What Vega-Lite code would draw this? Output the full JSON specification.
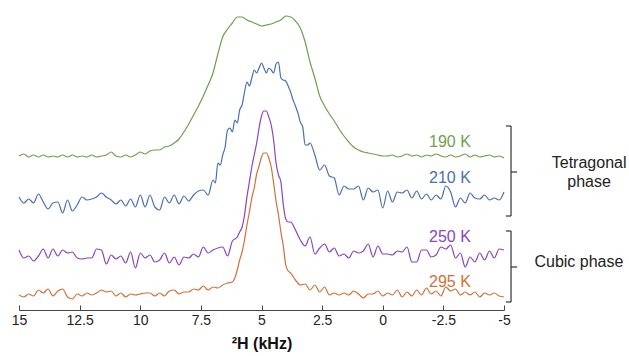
{
  "$schema": "https://vega.github.io/schema/vega-lite/v6.json",
  "width": 485,
  "height": 300,
  "autosize": {"type": "none"},
  "padding": {"left": 19, "top": 10, "right": 125, "bottom": 46},
  "config": {"view": {"stroke": null}, "font": "Liberation Sans"},
  "datasets": {
    "spectra": [
      {"s":"190 K","x":15,"y":154},{"s":"190 K","x":14.8,"y":156},{"s":"190 K","x":14.6,"y":153},{"s":"190 K","x":14.4,"y":155},{"s":"190 K","x":14.2,"y":153},{"s":"190 K","x":14,"y":155},{"s":"190 K","x":13.8,"y":153},{"s":"190 K","x":13.6,"y":154},{"s":"190 K","x":13.4,"y":153},{"s":"190 K","x":13.2,"y":155},{"s":"190 K","x":13,"y":153},
      {"s":"190 K","x":12.8,"y":155},{"s":"190 K","x":12.6,"y":153},{"s":"190 K","x":12.4,"y":154},{"s":"190 K","x":12.2,"y":153},{"s":"190 K","x":12,"y":155},{"s":"190 K","x":11.8,"y":153},{"s":"190 K","x":11.6,"y":154},{"s":"190 K","x":11.4,"y":155},{"s":"190 K","x":11.2,"y":158},{"s":"190 K","x":11,"y":154},
      {"s":"190 K","x":10.8,"y":153},{"s":"190 K","x":10.6,"y":155},{"s":"190 K","x":10.4,"y":153},{"s":"190 K","x":10.2,"y":155},{"s":"190 K","x":10,"y":158},{"s":"190 K","x":9.8,"y":156},{"s":"190 K","x":9.6,"y":159},{"s":"190 K","x":9.4,"y":160},{"s":"190 K","x":9.2,"y":160},{"s":"190 K","x":9,"y":163},
      {"s":"190 K","x":8.8,"y":164},{"s":"190 K","x":8.6,"y":167},{"s":"190 K","x":8.4,"y":171},{"s":"190 K","x":8.2,"y":178},{"s":"190 K","x":8,"y":186},{"s":"190 K","x":7.8,"y":195},{"s":"190 K","x":7.6,"y":204},{"s":"190 K","x":7.4,"y":214},{"s":"190 K","x":7.2,"y":225},{"s":"190 K","x":7,"y":237},
      {"s":"190 K","x":6.8,"y":256},{"s":"190 K","x":6.6,"y":273},{"s":"190 K","x":6.4,"y":281},{"s":"190 K","x":6.2,"y":287},{"s":"190 K","x":6,"y":293},{"s":"190 K","x":5.8,"y":293},{"s":"190 K","x":5.6,"y":290},{"s":"190 K","x":5.4,"y":288},{"s":"190 K","x":5.2,"y":286},{"s":"190 K","x":5,"y":284},
      {"s":"190 K","x":4.8,"y":285},{"s":"190 K","x":4.6,"y":286},{"s":"190 K","x":4.4,"y":288},{"s":"190 K","x":4.2,"y":290},{"s":"190 K","x":4,"y":294},{"s":"190 K","x":3.8,"y":293},{"s":"190 K","x":3.6,"y":289},{"s":"190 K","x":3.4,"y":282},{"s":"190 K","x":3.2,"y":268},{"s":"190 K","x":3,"y":248},
      {"s":"190 K","x":2.8,"y":232},{"s":"190 K","x":2.6,"y":214},{"s":"190 K","x":2.4,"y":204},{"s":"190 K","x":2.2,"y":196},{"s":"190 K","x":2,"y":189},{"s":"190 K","x":1.8,"y":181},{"s":"190 K","x":1.6,"y":174},{"s":"190 K","x":1.4,"y":168},{"s":"190 K","x":1.2,"y":163},{"s":"190 K","x":1,"y":160},
      {"s":"190 K","x":0.8,"y":158},{"s":"190 K","x":0.6,"y":157},{"s":"190 K","x":0.4,"y":156},{"s":"190 K","x":0.2,"y":155},{"s":"190 K","x":0,"y":154},{"s":"190 K","x":-0.2,"y":154},{"s":"190 K","x":-0.4,"y":155},{"s":"190 K","x":-0.6,"y":153},{"s":"190 K","x":-0.8,"y":154},{"s":"190 K","x":-1,"y":156},
      {"s":"190 K","x":-1.2,"y":154},{"s":"190 K","x":-1.4,"y":155},{"s":"190 K","x":-1.6,"y":153},{"s":"190 K","x":-1.8,"y":155},{"s":"190 K","x":-2,"y":154},{"s":"190 K","x":-2.2,"y":156},{"s":"190 K","x":-2.4,"y":154},{"s":"190 K","x":-2.6,"y":153},{"s":"190 K","x":-2.8,"y":155},{"s":"190 K","x":-3,"y":153},
      {"s":"190 K","x":-3.2,"y":154},{"s":"190 K","x":-3.4,"y":156},{"s":"190 K","x":-3.6,"y":153},{"s":"190 K","x":-3.8,"y":155},{"s":"190 K","x":-4,"y":153},{"s":"190 K","x":-4.2,"y":154},{"s":"190 K","x":-4.4,"y":155},{"s":"190 K","x":-4.6,"y":153},{"s":"190 K","x":-4.8,"y":154},{"s":"190 K","x":-5,"y":152},

      {"s":"210 K","x":15,"y":113},{"s":"210 K","x":14.8,"y":107},{"s":"210 K","x":14.6,"y":111},{"s":"210 K","x":14.4,"y":107},{"s":"210 K","x":14.2,"y":116},{"s":"210 K","x":14,"y":108},{"s":"210 K","x":13.8,"y":101},{"s":"210 K","x":13.6,"y":107},{"s":"210 K","x":13.4,"y":108},{"s":"210 K","x":13.2,"y":97},{"s":"210 K","x":13,"y":110},
      {"s":"210 K","x":12.8,"y":99},{"s":"210 K","x":12.6,"y":105},{"s":"210 K","x":12.4,"y":113},{"s":"210 K","x":12.2,"y":110},{"s":"210 K","x":12,"y":111},{"s":"210 K","x":11.8,"y":113},{"s":"210 K","x":11.6,"y":117},{"s":"210 K","x":11.4,"y":113},{"s":"210 K","x":11.2,"y":110},{"s":"210 K","x":11,"y":106},
      {"s":"210 K","x":10.8,"y":110},{"s":"210 K","x":10.6,"y":104},{"s":"210 K","x":10.4,"y":111},{"s":"210 K","x":10.2,"y":103},{"s":"210 K","x":10,"y":115},{"s":"210 K","x":9.8,"y":103},{"s":"210 K","x":9.6,"y":115},{"s":"210 K","x":9.4,"y":103},{"s":"210 K","x":9.2,"y":100},{"s":"210 K","x":9,"y":113},
      {"s":"210 K","x":8.8,"y":107},{"s":"210 K","x":8.6,"y":115},{"s":"210 K","x":8.4,"y":106},{"s":"210 K","x":8.2,"y":114},{"s":"210 K","x":8,"y":109},{"s":"210 K","x":7.8,"y":115},{"s":"210 K","x":7.6,"y":119},{"s":"210 K","x":7.4,"y":120},{"s":"210 K","x":7.2,"y":115},{"s":"210 K","x":7,"y":130},
      {"s":"210 K","x":6.9,"y":127},{"s":"210 K","x":6.8,"y":147},{"s":"210 K","x":6.7,"y":145},{"s":"210 K","x":6.6,"y":155},{"s":"210 K","x":6.5,"y":163},{"s":"210 K","x":6.4,"y":180},{"s":"210 K","x":6.3,"y":182},{"s":"210 K","x":6.2,"y":178},{"s":"210 K","x":6.1,"y":190},{"s":"210 K","x":6,"y":187},
      {"s":"210 K","x":5.9,"y":200},{"s":"210 K","x":5.8,"y":205},{"s":"210 K","x":5.7,"y":218},{"s":"210 K","x":5.6,"y":228},{"s":"210 K","x":5.5,"y":224},{"s":"210 K","x":5.4,"y":232},{"s":"210 K","x":5.3,"y":240},{"s":"210 K","x":5.2,"y":237},{"s":"210 K","x":5.1,"y":242},{"s":"210 K","x":5,"y":247},
      {"s":"210 K","x":4.9,"y":242},{"s":"210 K","x":4.8,"y":237},{"s":"210 K","x":4.7,"y":242},{"s":"210 K","x":4.6,"y":240},{"s":"210 K","x":4.5,"y":237},{"s":"210 K","x":4.4,"y":246},{"s":"210 K","x":4.3,"y":248},{"s":"210 K","x":4.2,"y":232},{"s":"210 K","x":4.1,"y":230},{"s":"210 K","x":4,"y":229},
      {"s":"210 K","x":3.9,"y":224},{"s":"210 K","x":3.8,"y":218},{"s":"210 K","x":3.7,"y":210},{"s":"210 K","x":3.6,"y":204},{"s":"210 K","x":3.5,"y":197},{"s":"210 K","x":3.4,"y":188},{"s":"210 K","x":3.3,"y":183},{"s":"210 K","x":3.2,"y":165},{"s":"210 K","x":3.1,"y":165},{"s":"210 K","x":3,"y":167},
      {"s":"210 K","x":2.8,"y":155},{"s":"210 K","x":2.6,"y":140},{"s":"210 K","x":2.4,"y":145},{"s":"210 K","x":2.2,"y":134},{"s":"210 K","x":2,"y":132},{"s":"210 K","x":1.8,"y":115},{"s":"210 K","x":1.6,"y":124},{"s":"210 K","x":1.4,"y":121},{"s":"210 K","x":1.2,"y":121},{"s":"210 K","x":1,"y":124},
      {"s":"210 K","x":0.8,"y":110},{"s":"210 K","x":0.6,"y":122},{"s":"210 K","x":0.4,"y":118},{"s":"210 K","x":0.2,"y":120},{"s":"210 K","x":0,"y":102},{"s":"210 K","x":-0.2,"y":119},{"s":"210 K","x":-0.4,"y":108},{"s":"210 K","x":-0.6,"y":118},{"s":"210 K","x":-0.8,"y":117},{"s":"210 K","x":-1,"y":120},
      {"s":"210 K","x":-1.2,"y":112},{"s":"210 K","x":-1.4,"y":119},{"s":"210 K","x":-1.6,"y":111},{"s":"210 K","x":-1.8,"y":116},{"s":"210 K","x":-2,"y":110},{"s":"210 K","x":-2.2,"y":115},{"s":"210 K","x":-2.4,"y":111},{"s":"210 K","x":-2.6,"y":124},{"s":"210 K","x":-2.8,"y":118},{"s":"210 K","x":-3,"y":103},
      {"s":"210 K","x":-3.2,"y":112},{"s":"210 K","x":-3.4,"y":107},{"s":"210 K","x":-3.6,"y":117},{"s":"210 K","x":-3.8,"y":112},{"s":"210 K","x":-4,"y":111},{"s":"210 K","x":-4.2,"y":115},{"s":"210 K","x":-4.4,"y":110},{"s":"210 K","x":-4.6,"y":112},{"s":"210 K","x":-4.8,"y":110},{"s":"210 K","x":-5,"y":118},

      {"s":"250 K","x":15,"y":60},{"s":"250 K","x":14.8,"y":52},{"s":"250 K","x":14.6,"y":54},{"s":"250 K","x":14.4,"y":49},{"s":"250 K","x":14.2,"y":54},{"s":"250 K","x":14,"y":61},{"s":"250 K","x":13.8,"y":52},{"s":"250 K","x":13.6,"y":61},{"s":"250 K","x":13.4,"y":54},{"s":"250 K","x":13.2,"y":60},{"s":"250 K","x":13,"y":57},
      {"s":"250 K","x":12.8,"y":58},{"s":"250 K","x":12.6,"y":52},{"s":"250 K","x":12.4,"y":51},{"s":"250 K","x":12.2,"y":52},{"s":"250 K","x":12,"y":52},{"s":"250 K","x":11.8,"y":61},{"s":"250 K","x":11.6,"y":60},{"s":"250 K","x":11.4,"y":46},{"s":"250 K","x":11.2,"y":55},{"s":"250 K","x":11,"y":51},
      {"s":"250 K","x":10.8,"y":54},{"s":"250 K","x":10.6,"y":47},{"s":"250 K","x":10.4,"y":58},{"s":"250 K","x":10.2,"y":42},{"s":"250 K","x":10,"y":57},{"s":"250 K","x":9.8,"y":52},{"s":"250 K","x":9.6,"y":55},{"s":"250 K","x":9.4,"y":48},{"s":"250 K","x":9.2,"y":50},{"s":"250 K","x":9,"y":57},
      {"s":"250 K","x":8.8,"y":47},{"s":"250 K","x":8.6,"y":53},{"s":"250 K","x":8.4,"y":45},{"s":"250 K","x":8.2,"y":53},{"s":"250 K","x":8,"y":52},{"s":"250 K","x":7.8,"y":56},{"s":"250 K","x":7.6,"y":53},{"s":"250 K","x":7.4,"y":63},{"s":"250 K","x":7.2,"y":57},{"s":"250 K","x":7,"y":60},
      {"s":"250 K","x":6.8,"y":62},{"s":"250 K","x":6.6,"y":63},{"s":"250 K","x":6.4,"y":54},{"s":"250 K","x":6.2,"y":69},{"s":"250 K","x":6,"y":73},{"s":"250 K","x":5.9,"y":78},{"s":"250 K","x":5.8,"y":83},{"s":"250 K","x":5.7,"y":95},{"s":"250 K","x":5.6,"y":113},{"s":"250 K","x":5.5,"y":128},
      {"s":"250 K","x":5.4,"y":143},{"s":"250 K","x":5.3,"y":155},{"s":"250 K","x":5.2,"y":167},{"s":"250 K","x":5.1,"y":182},{"s":"250 K","x":5,"y":194},{"s":"250 K","x":4.9,"y":199},{"s":"250 K","x":4.8,"y":199},{"s":"250 K","x":4.7,"y":193},{"s":"250 K","x":4.6,"y":185},{"s":"250 K","x":4.5,"y":170},
      {"s":"250 K","x":4.4,"y":147},{"s":"250 K","x":4.3,"y":135},{"s":"250 K","x":4.2,"y":128},{"s":"250 K","x":4.1,"y":105},{"s":"250 K","x":4,"y":91},{"s":"250 K","x":3.9,"y":88},{"s":"250 K","x":3.8,"y":88},{"s":"250 K","x":3.6,"y":80},{"s":"250 K","x":3.4,"y":70},{"s":"250 K","x":3.2,"y":64},
      {"s":"250 K","x":3,"y":73},{"s":"250 K","x":2.8,"y":56},{"s":"250 K","x":2.6,"y":62},{"s":"250 K","x":2.4,"y":66},{"s":"250 K","x":2.2,"y":58},{"s":"250 K","x":2,"y":62},{"s":"250 K","x":1.8,"y":54},{"s":"250 K","x":1.6,"y":56},{"s":"250 K","x":1.4,"y":52},{"s":"250 K","x":1.2,"y":59},
      {"s":"250 K","x":1,"y":57},{"s":"250 K","x":0.8,"y":59},{"s":"250 K","x":0.6,"y":66},{"s":"250 K","x":0.4,"y":53},{"s":"250 K","x":0.2,"y":64},{"s":"250 K","x":0,"y":56},{"s":"250 K","x":-0.2,"y":56},{"s":"250 K","x":-0.4,"y":55},{"s":"250 K","x":-0.6,"y":59},{"s":"250 K","x":-0.8,"y":58},
      {"s":"250 K","x":-1,"y":63},{"s":"250 K","x":-1.2,"y":48},{"s":"250 K","x":-1.4,"y":48},{"s":"250 K","x":-1.6,"y":60},{"s":"250 K","x":-1.8,"y":60},{"s":"250 K","x":-2,"y":53},{"s":"250 K","x":-2.2,"y":55},{"s":"250 K","x":-2.4,"y":63},{"s":"250 K","x":-2.6,"y":61},{"s":"250 K","x":-2.8,"y":65},
      {"s":"250 K","x":-3,"y":52},{"s":"250 K","x":-3.2,"y":57},{"s":"250 K","x":-3.4,"y":43},{"s":"250 K","x":-3.6,"y":53},{"s":"250 K","x":-3.8,"y":48},{"s":"250 K","x":-4,"y":57},{"s":"250 K","x":-4.2,"y":50},{"s":"250 K","x":-4.4,"y":59},{"s":"250 K","x":-4.6,"y":52},{"s":"250 K","x":-4.8,"y":61},{"s":"250 K","x":-5,"y":60},

      {"s":"295 K","x":15,"y":15},{"s":"295 K","x":14.8,"y":13},{"s":"295 K","x":14.6,"y":16},{"s":"295 K","x":14.4,"y":14},{"s":"295 K","x":14.2,"y":20},{"s":"295 K","x":14,"y":17},{"s":"295 K","x":13.8,"y":21},{"s":"295 K","x":13.6,"y":14},{"s":"295 K","x":13.4,"y":19},{"s":"295 K","x":13.2,"y":21},{"s":"295 K","x":13,"y":13},
      {"s":"295 K","x":12.8,"y":11},{"s":"295 K","x":12.6,"y":16},{"s":"295 K","x":12.4,"y":14},{"s":"295 K","x":12.2,"y":17},{"s":"295 K","x":12,"y":15},{"s":"295 K","x":11.8,"y":17},{"s":"295 K","x":11.6,"y":20},{"s":"295 K","x":11.4,"y":18},{"s":"295 K","x":11.2,"y":19},{"s":"295 K","x":11,"y":14},
      {"s":"295 K","x":10.8,"y":17},{"s":"295 K","x":10.6,"y":13},{"s":"295 K","x":10.4,"y":16},{"s":"295 K","x":10.2,"y":15},{"s":"295 K","x":10,"y":16},{"s":"295 K","x":9.8,"y":17},{"s":"295 K","x":9.6,"y":17},{"s":"295 K","x":9.4,"y":14},{"s":"295 K","x":9.2,"y":17},{"s":"295 K","x":9,"y":14},
      {"s":"295 K","x":8.8,"y":19},{"s":"295 K","x":8.6,"y":20},{"s":"295 K","x":8.4,"y":16},{"s":"295 K","x":8.2,"y":18},{"s":"295 K","x":8,"y":18},{"s":"295 K","x":7.8,"y":21},{"s":"295 K","x":7.6,"y":20},{"s":"295 K","x":7.4,"y":24},{"s":"295 K","x":7.2,"y":20},{"s":"295 K","x":7,"y":23},
      {"s":"295 K","x":6.8,"y":22},{"s":"295 K","x":6.6,"y":25},{"s":"295 K","x":6.4,"y":27},{"s":"295 K","x":6.2,"y":28},{"s":"295 K","x":6.1,"y":32},{"s":"295 K","x":6,"y":40},{"s":"295 K","x":5.9,"y":50},{"s":"295 K","x":5.8,"y":58},{"s":"295 K","x":5.7,"y":70},{"s":"295 K","x":5.6,"y":85},
      {"s":"295 K","x":5.5,"y":98},{"s":"295 K","x":5.4,"y":112},{"s":"295 K","x":5.3,"y":122},{"s":"295 K","x":5.2,"y":136},{"s":"295 K","x":5.1,"y":144},{"s":"295 K","x":5,"y":153},{"s":"295 K","x":4.9,"y":157},{"s":"295 K","x":4.8,"y":157},{"s":"295 K","x":4.7,"y":152},{"s":"295 K","x":4.6,"y":143},
      {"s":"295 K","x":4.5,"y":127},{"s":"295 K","x":4.4,"y":109},{"s":"295 K","x":4.3,"y":95},{"s":"295 K","x":4.2,"y":78},{"s":"295 K","x":4.1,"y":64},{"s":"295 K","x":4,"y":45},{"s":"295 K","x":3.9,"y":39},{"s":"295 K","x":3.8,"y":37},{"s":"295 K","x":3.6,"y":30},{"s":"295 K","x":3.4,"y":25},
      {"s":"295 K","x":3.2,"y":26},{"s":"295 K","x":3,"y":20},{"s":"295 K","x":2.8,"y":25},{"s":"295 K","x":2.6,"y":18},{"s":"295 K","x":2.4,"y":23},{"s":"295 K","x":2.2,"y":15},{"s":"295 K","x":2,"y":17},{"s":"295 K","x":1.8,"y":15},{"s":"295 K","x":1.6,"y":17},{"s":"295 K","x":1.4,"y":15},
      {"s":"295 K","x":1.2,"y":19},{"s":"295 K","x":1,"y":16},{"s":"295 K","x":0.8,"y":12},{"s":"295 K","x":0.6,"y":16},{"s":"295 K","x":0.4,"y":16},{"s":"295 K","x":0.2,"y":19},{"s":"295 K","x":0,"y":14},{"s":"295 K","x":-0.2,"y":17},{"s":"295 K","x":-0.4,"y":15},{"s":"295 K","x":-0.6,"y":20},
      {"s":"295 K","x":-0.8,"y":13},{"s":"295 K","x":-1,"y":18},{"s":"295 K","x":-1.2,"y":14},{"s":"295 K","x":-1.4,"y":20},{"s":"295 K","x":-1.6,"y":15},{"s":"295 K","x":-1.8,"y":22},{"s":"295 K","x":-2,"y":16},{"s":"295 K","x":-2.2,"y":19},{"s":"295 K","x":-2.4,"y":14},{"s":"295 K","x":-2.6,"y":23},
      {"s":"295 K","x":-2.8,"y":19},{"s":"295 K","x":-3,"y":21},{"s":"295 K","x":-3.2,"y":15},{"s":"295 K","x":-3.4,"y":18},{"s":"295 K","x":-3.6,"y":15},{"s":"295 K","x":-3.8,"y":18},{"s":"295 K","x":-4,"y":13},{"s":"295 K","x":-4.2,"y":17},{"s":"295 K","x":-4.4,"y":15},{"s":"295 K","x":-4.6,"y":17},{"s":"295 K","x":-4.8,"y":14},{"s":"295 K","x":-5,"y":13}
    ],
    "labels": [
      {"s":"190 K","x":-2.77,"y":168},
      {"s":"210 K","x":-2.77,"y":132},
      {"s":"250 K","x":-2.77,"y":73},
      {"s":"295 K","x":-2.77,"y":28}
    ],
    "brackets": [
      {"x":-5.29,"x2":-5.29,"y":94,"y2":184},
      {"x":-5.08,"x2":-5.29,"y":184,"y2":184},
      {"x":-5.08,"x2":-5.29,"y":94,"y2":94},
      {"x":-5.29,"x2":-5.54,"y":138,"y2":138},
      {"x":-5.29,"x2":-5.29,"y":8,"y2":79},
      {"x":-5.08,"x2":-5.29,"y":79,"y2":79},
      {"x":-5.08,"x2":-5.29,"y":8,"y2":8},
      {"x":-5.29,"x2":-5.54,"y":43,"y2":43}
    ],
    "phases": [
      {"t":"Tetragonal","x":-8.51,"y":147},
      {"t":"phase","x":-8.51,"y":128},
      {"t":"Cubic phase","x":-8.09,"y":48}
    ]
  },
  "layer": [
    {
      "data": {"name": "spectra"},
      "mark": {"type": "line", "strokeWidth": 1.2, "interpolate": "monotone"},
      "encoding": {
        "x": {
          "field": "x", "type": "quantitative", "title": "²H (kHz)",
          "scale": {"domain": [-5, 15], "reverse": true, "nice": false, "zero": false},
          "axis": {
            "values": [15, 12.5, 10, 7.5, 5, 2.5, 0, -2.5, -5],
            "labelExpr": "'' + datum.value",
            "grid": false,
            "tickSize": -5,
            "labelPadding": 8,
            "labelFontSize": 14,
            "labelColor": "#222222",
            "labelFlush": false,
            "domainColor": "#444444",
            "tickColor": "#444444",
            "titleFontSize": 16,
            "titleFontWeight": "bold",
            "titleColor": "#111111",
            "titlePadding": 8
          }
        },
        "y": {"field": "y", "type": "quantitative", "scale": {"domain": [0, 300], "nice": false}, "axis": null},
        "color": {
          "field": "s", "type": "nominal", "legend": null,
          "scale": {"domain": ["190 K", "210 K", "250 K", "295 K"], "range": ["#6f9f4c", "#4a70b4", "#8a46bb", "#d07238"]}
        }
      }
    },
    {
      "data": {"name": "labels"},
      "mark": {"type": "text", "fontSize": 16, "align": "center", "baseline": "middle"},
      "encoding": {
        "x": {"field": "x", "type": "quantitative", "title": "²H (kHz)"},
        "y": {"field": "y", "type": "quantitative", "axis": null},
        "text": {"field": "s"},
        "color": {"field": "s", "type": "nominal", "legend": null}
      }
    },
    {
      "data": {"name": "brackets"},
      "mark": {"type": "rule", "color": "#333333", "strokeWidth": 1.2},
      "encoding": {
        "x": {"field": "x", "type": "quantitative", "title": "²H (kHz)"},
        "x2": {"field": "x2"},
        "y": {"field": "y", "type": "quantitative", "axis": null},
        "y2": {"field": "y2"}
      }
    },
    {
      "data": {"name": "phases"},
      "mark": {"type": "text", "fontSize": 16, "align": "center", "baseline": "middle", "color": "#222222"},
      "encoding": {
        "x": {"field": "x", "type": "quantitative", "title": "²H (kHz)"},
        "y": {"field": "y", "type": "quantitative", "axis": null},
        "text": {"field": "t"}
      }
    }
  ]
}
